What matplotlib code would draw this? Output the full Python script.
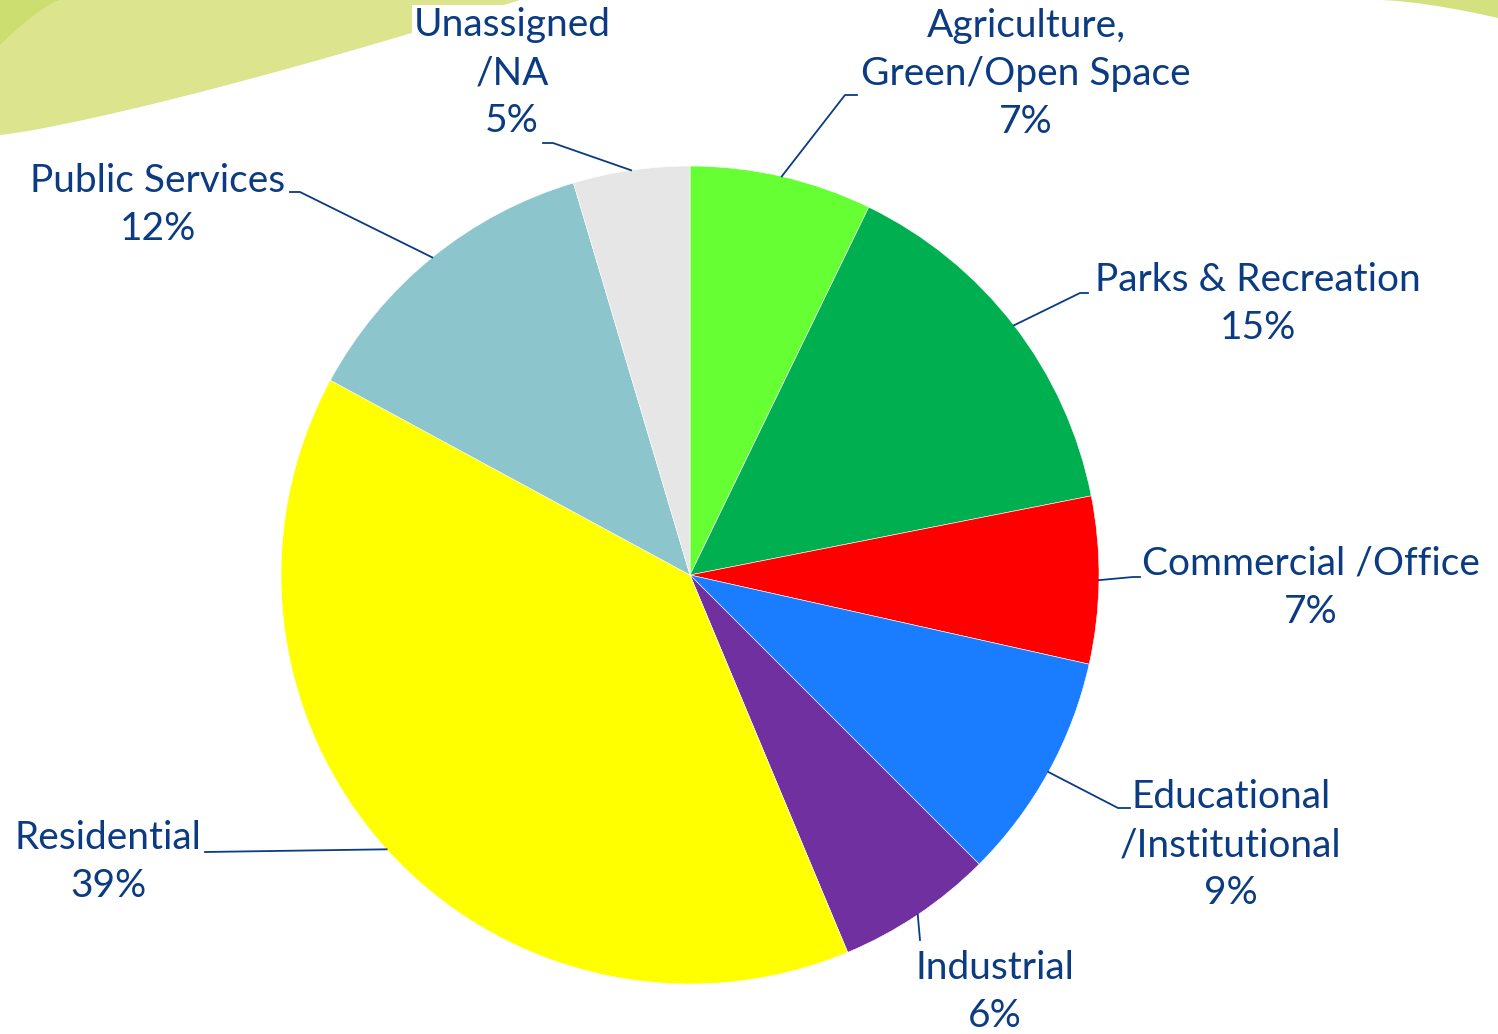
import numpy as np
import matplotlib.pyplot as plt
from matplotlib.patches import Polygon

# land use shares, clockwise from 12 o'clock
categories = ['Agriculture,\nGreen/Open Space', 'Parks & Recreation', 'Commercial /Office',
              'Educational\n/Institutional', 'Industrial', 'Residential',
              'Public Services', 'Unassigned\n/NA']
shares = [7.2, 14.7, 6.6, 9.0, 6.2, 39.2, 12.5, 4.6]
pct_labels = ['7%', '15%', '7%', '9%', '6%', '39%', '12%', '5%']
colors = ['#66FF33', '#00B050', '#FF0000', '#1A7DFF', '#7030A0', '#FFFF00', '#8DC5CD', '#E6E6E6']

W, H = 1498, 1034
txt_color = '#0B3B82'

def px(x, y):
    # pixel (top-down) -> data coords
    return x, H - y

fig = plt.figure(figsize=(W/100, H/100), dpi=100)
ax = fig.add_axes([0, 0, 1, 1])
ax.set_xlim(0, W)
ax.set_ylim(0, H)
ax.set_aspect('equal')
ax.axis('off')

# decorative swoosh at the top
xs = np.linspace(0, 520, 60)
top_edge = 135 * (1 - (xs/520)**1.2)
pts = [px(0, 0)] + [px(x, y) for x, y in zip(xs, top_edge)] + [px(620, 0)]
ax.add_patch(Polygon(pts, closed=True, color='#DCE58E', zorder=0, lw=0))
xs2 = np.linspace(0, 60, 20)
pts2 = [px(0, 0)] + [px(x, 45*(1 - x/60)**1.3) for x in xs2]
ax.add_patch(Polygon(pts2, closed=True, color='#C5DC62', zorder=0, lw=0, alpha=0.7))
xs3 = np.linspace(1380, W, 30)
pts3 = [px(1380, 0)] + [px(x, 18*((x-1380)/(W-1380))**1.5) for x in xs3] + [px(W, 0)]
ax.add_patch(Polygon(pts3, closed=True, color='#D3E27E', zorder=0, lw=0))

cx, cy = px(690, 575)
R = 409
wedges, _ = ax.pie(shares, colors=colors, startangle=90, counterclock=False,
                   center=(cx, cy), radius=R,
                   wedgeprops=dict(edgecolor='white', linewidth=0.4))
ax.set_xlim(0, W)
ax.set_ylim(0, H)

# label layout: text centre (px), elbow points (px)
text_pos = [(1026, 74), (1258, 304), (1311, 588), (1231, 845),
            (995, 992), (108, 862), (158, 205), (512, 73)]
elbows = [[(857, 95), (845, 95)],
          [(1088, 293), (1080, 293)],
          [(1140, 577), (1133, 577)],
          [(1130, 808), (1118, 808)],
          [(920, 940), (920, 940)],
          [(205, 852), (205, 852)],
          [(290, 192), (300, 192)],
          [(543, 143), (553, 143)]]

for w, name, pct, tp, el in zip(wedges, categories, pct_labels, text_pos, elbows):
    mid = np.deg2rad((w.theta1 + w.theta2) / 2)
    ax_, ay_ = cx + R*np.cos(mid), cy + R*np.sin(mid)
    e0 = px(*el[0]); e1 = px(*el[1])
    ax.plot([e0[0], e1[0], ax_], [e0[1], e1[1], ay_], color=txt_color, lw=1.3, zorder=3)
    tx, ty = px(*tp)
    ax.text(tx, ty, name + '\n' + pct, ha='center', va='center', fontsize=28,
            family='Lato', color=txt_color, linespacing=1.42, zorder=4,
            bbox=dict(facecolor='white', edgecolor='none', pad=1) if 'Unassigned' in name else None)

fig.savefig('out.png', dpi=100)
